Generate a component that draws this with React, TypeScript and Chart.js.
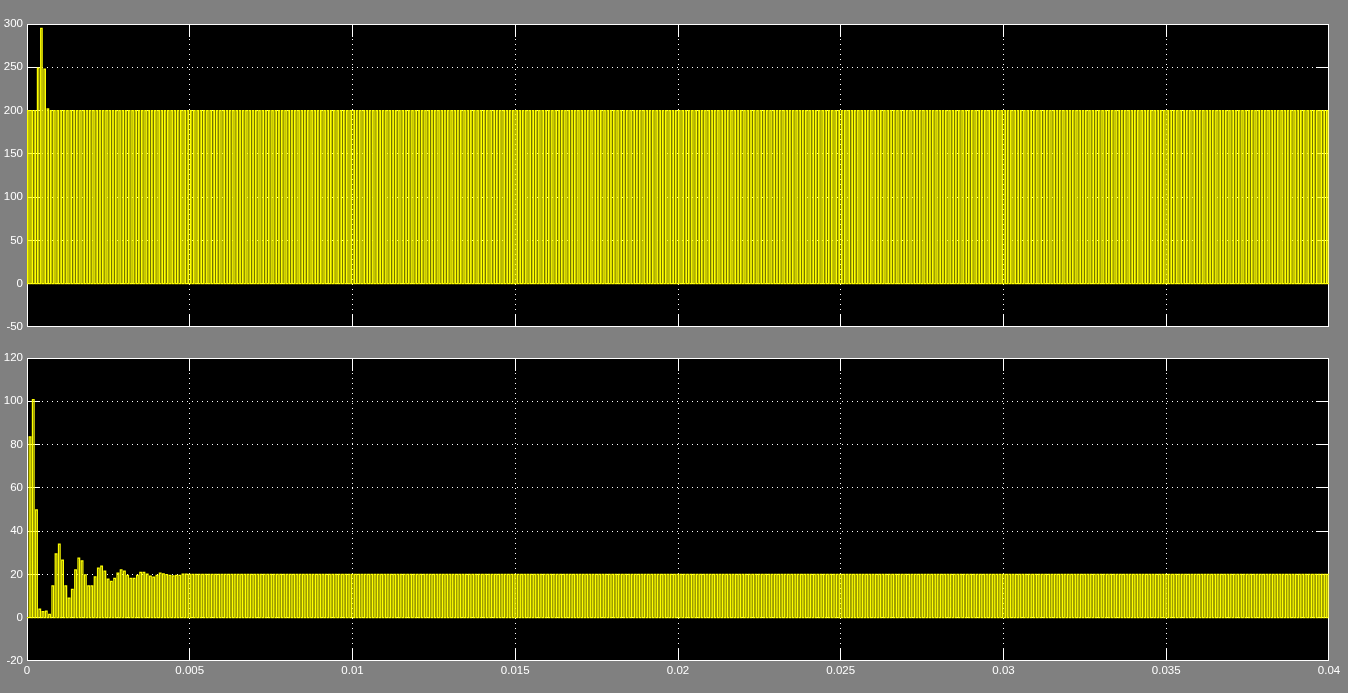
import React, { useEffect, useRef } from 'react';
import { Chart, registerables } from 'chart.js';

Chart.register(...registerables);

// ---- data ----
const T_END = 0.04;
const SWITCH_PERIOD = 1e-4;
const PULSE_COUNT = 400;

const TOP_PHASE = 0.2;
const TOP_DUTY = 0.45;
const BOTTOM_PHASE = 0.67;
const BOTTOM_DUTY = 0.5;

// top trace: first pulse heights (start-up), then every pulse at the steady level
const topPulseHead = [200, 200, 200, 249, 295, 248, 202];
const topPulseSteady = 200;

// bottom trace: first pulse heights (start-up transient), then steady level
const bottomPulseHead = [
  83.5, 100.8, 49.8, 4.0, 2.8, 3.1, 1.5, 14.7, 29.5, 34.0,
  26.6, 14.7, 9.1, 13.1, 22.1, 27.5, 26.3, 19.8, 14.7, 14.7,
  18.9, 22.9, 23.8, 21.5, 17.8, 16.8, 18.2, 20.6, 22.1, 21.5,
  19.6, 18.2, 18.2, 19.6, 21.0, 21.0, 20.1, 19.2, 18.7, 19.6,
  20.6, 20.2, 19.9, 19.6, 19.3, 19.6, 19.6, 20.1, 20.1,
];
const bottomPulseSteady = 20;

const xTickValues = [0, 0.005, 0.01, 0.015, 0.02, 0.025, 0.03, 0.035, 0.04];
const xTickLabels = ['0', '0.005', '0.01', '0.015', '0.02', '0.025', '0.03', '0.035', '0.04'];
const topYTicks = [-50, 0, 50, 100, 150, 200, 250, 300];
const bottomYTicks = [-20, 0, 20, 40, 60, 80, 100, 120];

// ---- helpers ----
type Pt = { x: number; y: number };

function buildPulseTrain(head: number[], steady: number, phase: number, duty: number): Pt[] {
  const pts: Pt[] = [{ x: 0, y: 0 }];
  for (let k = 0; k < PULSE_COUNT; k++) {
    const h = k < head.length ? head[k] : steady;
    const t0 = (k + phase) * SWITCH_PERIOD;
    const t1 = t0 + duty * SWITCH_PERIOD;
    pts.push({ x: t0, y: 0 }, { x: t0, y: h }, { x: t1, y: h }, { x: t1, y: 0 });
  }
  const last = pts[pts.length - 1];
  if (last.x < T_END) pts.push({ x: T_END, y: 0 });
  return pts;
}

const FONT = { family: '"Liberation Sans", Arial, sans-serif', size: 11.5 };
const TICK_LEN = 13;

const scopeFrame = {
  id: 'scopeFrame',
  beforeDraw(chart: any) {
    const { ctx, chartArea: a } = chart;
    ctx.save();
    ctx.fillStyle = '#000';
    ctx.fillRect(a.left, a.top, a.right - a.left, a.bottom - a.top);
    ctx.restore();
  },
  beforeDatasetsDraw(chart: any) {
    const { ctx, chartArea: a, scales } = chart;
    const align = (p: number) => Math.round(p - 0.5) + 0.5;
    const xs = scales.x.ticks;
    const ys = scales.y.ticks;
    ctx.save();
    ctx.strokeStyle = '#fff';
    ctx.lineWidth = 1;
    ctx.setLineDash([]);
    ctx.beginPath();
    for (let i = 1; i < xs.length - 1; i++) {
      const px = align(scales.x.getPixelForValue(xs[i].value));
      ctx.moveTo(px, a.top);
      ctx.lineTo(px, a.top + TICK_LEN);
      ctx.moveTo(px, a.bottom);
      ctx.lineTo(px, a.bottom - TICK_LEN);
    }
    for (let i = 1; i < ys.length - 1; i++) {
      const py = align(scales.y.getPixelForValue(ys[i].value));
      ctx.moveTo(a.left, py);
      ctx.lineTo(a.left + TICK_LEN, py);
      ctx.moveTo(a.right, py);
      ctx.lineTo(a.right - TICK_LEN, py);
    }
    ctx.stroke();
    ctx.strokeRect(a.left + 0.5, a.top + 0.5, a.right - a.left - 1, a.bottom - a.top - 1);
    ctx.restore();
  },
};

interface PanelProps {
  top: number;
  height: number;
  padTop: number;
  xAxisHeight: number;
  padBottom: number;
  yTicks: number[];
  showXLabels: boolean;
  data: Pt[];
}

function ScopePanel({ top, height, padTop, xAxisHeight, padBottom, yTicks, showXLabels, data }: PanelProps) {
  const ref = useRef<HTMLCanvasElement>(null);
  useEffect(() => {
    if (!ref.current) return;
    const yMin = yTicks[0];
    const yMax = yTicks[yTicks.length - 1];
    const xMin = xTickValues[0];
    const xMax = xTickValues[xTickValues.length - 1];
    const chart = new Chart(ref.current, {
      type: 'line',
      data: {
        datasets: [
          {
            data,
            borderColor: '#ffff00',
            borderWidth: 1.25,
            pointRadius: 0,
            tension: 0,
            fill: false,
          },
        ],
      },
      options: {
        animation: false,
        responsive: false,
        maintainAspectRatio: false,
        events: [],
        parsing: false,
        normalized: true,
        layout: { padding: { top: padTop, right: 19, bottom: padBottom, left: 0 } },
        plugins: { legend: { display: false }, tooltip: { enabled: false }, title: { display: false } },
        scales: {
          x: {
            type: 'linear',
            min: xMin,
            max: xMax,
            afterBuildTicks: (s: any) => {
              s.ticks = xTickValues.map((v) => ({ value: v }));
            },
            afterFit: (s: any) => {
              s.height = xAxisHeight;
            },
            grid: {
              drawTicks: false,
              lineWidth: 1,
              color: (c: any) =>
                c.tick && (c.tick.value === xMin || c.tick.value === xMax) ? 'rgba(0,0,0,0)' : '#ffffff',
            },
            border: { display: false, dash: [1, 4] },
            ticks: {
              display: showXLabels,
              autoSkip: false,
              maxRotation: 0,
              minRotation: 0,
              padding: 3,
              color: '#ffffff',
              font: FONT,
              callback: (_v: any, i: number) => xTickLabels[i],
            },
          },
          y: {
            type: 'linear',
            min: yMin,
            max: yMax,
            afterBuildTicks: (s: any) => {
              s.ticks = yTicks.map((v) => ({ value: v }));
            },
            afterFit: (s: any) => {
              s.width = 27;
            },
            grid: {
              drawTicks: false,
              lineWidth: 1,
              color: (c: any) =>
                c.tick && (c.tick.value === yMin || c.tick.value === yMax) ? 'rgba(0,0,0,0)' : '#ffffff',
            },
            border: { display: false, dash: [1, 4] },
            ticks: {
              autoSkip: false,
              padding: 4,
              color: '#ffffff',
              font: FONT,
              callback: (v: any) => String(v),
            },
          },
        },
      },
      plugins: [scopeFrame],
    } as any);
    return () => chart.destroy();
  }, []);
  return (
    <canvas
      ref={ref}
      width={1348}
      height={height}
      style={{ position: 'absolute', left: 0, top, width: 1348, height }}
    />
  );
}

export default function App() {
  const topData = buildPulseTrain(topPulseHead, topPulseSteady, TOP_PHASE, TOP_DUTY);
  const bottomData = buildPulseTrain(bottomPulseHead, bottomPulseSteady, BOTTOM_PHASE, BOTTOM_DUTY);
  return (
    <div
      style={{
        position: 'fixed',
        left: 0,
        top: 0,
        width: 1348,
        height: 693,
        background: '#808080',
        overflow: 'hidden',
      }}
    >
      <ScopePanel
        top={0}
        height={340}
        padTop={24}
        xAxisHeight={0}
        padBottom={13}
        yTicks={topYTicks}
        showXLabels={false}
        data={topData}
      />
      <ScopePanel
        top={340}
        height={353}
        padTop={18}
        xAxisHeight={32}
        padBottom={0}
        yTicks={bottomYTicks}
        showXLabels={true}
        data={bottomData}
      />
    </div>
  );
}
